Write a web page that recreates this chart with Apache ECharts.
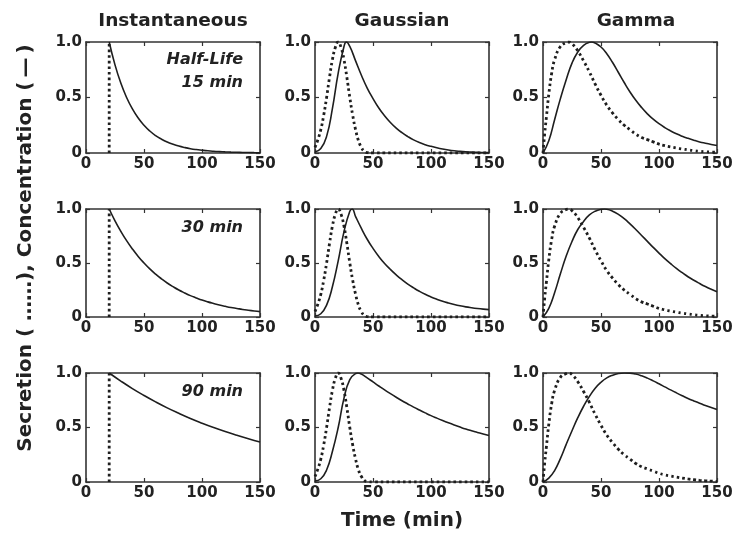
<!DOCTYPE html>
<html>
<head>
<meta charset="utf-8">
<script src="https://cdn.jsdelivr.net/npm/echarts@6/dist/echarts.min.js"></script>
<style>
  html, body { margin: 0; padding: 0; background: #ffffff; }
  #chart { width: 745px; height: 536px; }
</style>
</head>
<body>
<div id="chart"></div>
<script>
// Column and row headings
const columnTitles = ['Instantaneous', 'Gaussian', 'Gamma'];
const halfLifeLabels = [['Half-Life', '15 min'], ['30 min'], ['90 min']];
const xTicks = [0, 50, 100, 150];
const yTicks = [0, 0.5, 1.0];

// Secretion profiles, [time (min), relative secretion]
const pulseSecretion = [[20, 0], [20, 1]];
const gaussSecretion = [
  [0, 0.05], [2.5, 0.12], [5, 0.21], [7.5, 0.34], [10, 0.50], [12.5, 0.68], [15, 0.84],
  [17.5, 0.95], [20, 1.0], [22.5, 0.95], [25, 0.84], [27.5, 0.68], [30, 0.50], [32.5, 0.34],
  [35, 0.21], [37.5, 0.11], [40, 0.05], [42.5, 0.015], [45, 0.004], [50, 0], [100, 0], [150, 0]
];
const gammaSecretion = [
  [0, 0], [1.5, 0.18], [3, 0.33], [5, 0.53], [7.5, 0.72], [10, 0.84], [15, 0.96], [20, 0.995],
  [22, 1.0], [25, 0.985], [30, 0.92], [35, 0.83], [40, 0.73], [45, 0.62], [50, 0.52], [55, 0.43],
  [60, 0.36], [65, 0.30], [70, 0.25], [75, 0.21], [80, 0.17], [85, 0.14], [90, 0.12], [95, 0.10],
  [100, 0.08], [105, 0.066], [110, 0.055], [115, 0.045], [120, 0.036], [125, 0.028], [130, 0.021],
  [135, 0.015], [140, 0.011], [145, 0.008], [150, 0.006]
];

// Concentration after an instantaneous pulse at 20 min
const instConc15 = [
  [20, 1], [25, 0.794], [30, 0.63], [35, 0.5], [40, 0.397], [45, 0.315], [50, 0.25], [55, 0.198],
  [60, 0.157], [65, 0.125], [70, 0.099], [75, 0.079], [80, 0.0625], [85, 0.0496], [90, 0.039],
  [95, 0.031], [100, 0.025], [105, 0.0197], [110, 0.0156], [115, 0.0124], [120, 0.0098],
  [125, 0.0078], [130, 0.0062], [135, 0.0049], [140, 0.0039], [145, 0.0031], [150, 0.0024]
];
const instConc30 = [
  [20, 1], [25, 0.891], [30, 0.794], [35, 0.707], [40, 0.63], [45, 0.561], [50, 0.5], [55, 0.445],
  [60, 0.397], [65, 0.354], [70, 0.315], [75, 0.281], [80, 0.25], [85, 0.223], [90, 0.198],
  [95, 0.177], [100, 0.157], [105, 0.14], [110, 0.125], [115, 0.111], [120, 0.099], [125, 0.088],
  [130, 0.079], [135, 0.07], [140, 0.0625], [145, 0.0557], [150, 0.0496]
];
const instConc90 = [
  [20, 1], [30, 0.926], [40, 0.857], [50, 0.794], [60, 0.735], [70, 0.68], [80, 0.63], [90, 0.583],
  [100, 0.54], [110, 0.5], [120, 0.463], [130, 0.429], [140, 0.397], [150, 0.367]
];

// Concentration for Gaussian secretion
const gaussConc15 = [
  [0, 0.01], [5, 0.04], [10, 0.15], [15, 0.40], [20, 0.72], [25, 0.96], [27, 1.0], [30, 0.96],
  [35, 0.83], [40, 0.70], [45, 0.585], [50, 0.49], [55, 0.405], [60, 0.335], [65, 0.275], [70, 0.225],
  [75, 0.183], [80, 0.148], [85, 0.118], [90, 0.094], [95, 0.075], [100, 0.06], [105, 0.047],
  [110, 0.036], [115, 0.027], [120, 0.02], [125, 0.015], [130, 0.011], [135, 0.008], [140, 0.006],
  [145, 0.004], [150, 0.003]
];
const gaussConc30 = [
  [0, 0.01], [5, 0.03], [10, 0.11], [15, 0.28], [20, 0.52], [25, 0.79], [30, 0.98], [32, 1.0],
  [35, 0.93], [40, 0.82], [45, 0.72], [50, 0.635], [55, 0.56], [60, 0.495], [65, 0.44], [70, 0.39],
  [75, 0.345], [80, 0.305], [85, 0.27], [90, 0.238], [95, 0.21], [100, 0.186], [105, 0.165],
  [110, 0.146], [115, 0.13], [120, 0.116], [125, 0.104], [130, 0.094], [135, 0.086], [140, 0.079],
  [145, 0.073], [150, 0.068]
];
const gaussConc90 = [
  [0, 0.01], [5, 0.03], [10, 0.11], [15, 0.28], [20, 0.50], [25, 0.77], [30, 0.94], [35, 0.995],
  [37, 1.0], [40, 0.99], [45, 0.955], [50, 0.918], [55, 0.881], [60, 0.845], [65, 0.811], [70, 0.778],
  [75, 0.746], [80, 0.716], [85, 0.687], [90, 0.66], [95, 0.634], [100, 0.609], [105, 0.586],
  [110, 0.564], [115, 0.543], [120, 0.523], [125, 0.504], [130, 0.486], [135, 0.47], [140, 0.455],
  [145, 0.44], [150, 0.427]
];

// Concentration for gamma-shaped secretion
const gammaConc15 = [
  [0, 0], [5, 0.11], [10, 0.30], [15, 0.49], [20, 0.66], [25, 0.81], [30, 0.91], [35, 0.97],
  [40, 0.997], [42, 1.0], [45, 0.99], [50, 0.955], [55, 0.895], [60, 0.815], [65, 0.725], [70, 0.635],
  [75, 0.55], [80, 0.475], [85, 0.41], [90, 0.353], [95, 0.305], [100, 0.264], [105, 0.229],
  [110, 0.199], [115, 0.173], [120, 0.151], [125, 0.132], [130, 0.115], [135, 0.1], [140, 0.088],
  [145, 0.077], [150, 0.067]
];
const gammaConc30 = [
  [0, 0], [5, 0.08], [10, 0.225], [15, 0.40], [20, 0.565], [25, 0.70], [30, 0.81], [35, 0.885],
  [40, 0.945], [45, 0.98], [50, 0.997], [53, 1.0], [55, 0.998], [60, 0.98], [65, 0.95], [70, 0.91],
  [75, 0.862], [80, 0.81], [85, 0.755], [90, 0.70], [95, 0.645], [100, 0.592], [105, 0.541],
  [110, 0.494], [115, 0.45], [120, 0.41], [125, 0.373], [130, 0.34], [135, 0.31], [140, 0.282],
  [145, 0.257], [150, 0.234]
];
const gammaConc90 = [
  [0, 0], [5, 0.035], [10, 0.105], [15, 0.215], [20, 0.345], [25, 0.47], [30, 0.59], [35, 0.695],
  [40, 0.785], [45, 0.86], [50, 0.915], [55, 0.955], [60, 0.98], [65, 0.995], [70, 1.0], [75, 0.999],
  [80, 0.99], [85, 0.974], [90, 0.953], [95, 0.928], [100, 0.901], [105, 0.873], [110, 0.845],
  [115, 0.818], [120, 0.792], [125, 0.767], [130, 0.744], [135, 0.722], [140, 0.702], [145, 0.683],
  [150, 0.665]
];

// Panel contents: rows are half-lives, columns are secretion shapes
const secretionByColumn = [pulseSecretion, gaussSecretion, gammaSecretion];
const concentrationByPanel = [
  [instConc15, gaussConc15, gammaConc15],
  [instConc30, gaussConc30, gammaConc30],
  [instConc90, gaussConc90, gammaConc90]
];

// Layout
const FONT = '"DejaVu Sans", sans-serif';
const INK = '#222222';
const FRAME = '#333333';
const colLeft = [86, 315, 543];
const colWidth = 174;
const rowTop = [42, 209, 373];
const rowHeight = [111, 108, 109];

const grids = [], xAxes = [], yAxes = [], series = [];

function frameAxis(extra) {
  return Object.assign({
    type: 'value',
    axisLine: { show: true, onZero: false, lineStyle: { color: FRAME, width: 1.6 } },
    axisTick: { show: true, inside: true, length: 4, lineStyle: { color: FRAME, width: 1.2 } },
    splitLine: { show: false },
    axisLabel: { show: false }
  }, extra);
}

const tickLabel = {
  show: true, color: INK, fontFamily: FONT, fontWeight: 'bold', fontSize: 15
};

for (let r = 0; r < 3; r++) {
  for (let c = 0; c < 3; c++) {
    const g = r * 3 + c;
    grids.push({ left: colLeft[c], top: rowTop[r], width: colWidth, height: rowHeight[r], containLabel: false });
    const xRange = { gridIndex: g, min: xTicks[0], max: xTicks[xTicks.length - 1], interval: xTicks[1] - xTicks[0] };
    const yRange = { gridIndex: g, min: yTicks[0], max: yTicks[yTicks.length - 1], interval: yTicks[1] - yTicks[0] };
    xAxes.push(frameAxis(Object.assign({ position: 'bottom',
      axisLabel: Object.assign({ margin: 4 }, tickLabel) }, xRange)));
    xAxes.push(frameAxis(Object.assign({ position: 'top' }, xRange)));
    yAxes.push(frameAxis(Object.assign({ position: 'left',
      axisLabel: Object.assign({ margin: 4, formatter: v => (v === 0 ? '0' : v.toFixed(1)) }, tickLabel) }, yRange)));
    yAxes.push(frameAxis(Object.assign({ position: 'right' }, yRange)));

    // secretion (dotted)
    series.push({
      type: 'line', xAxisIndex: 2 * g, yAxisIndex: 2 * g,
      data: secretionByColumn[c], showSymbol: false, silent: true,
      smooth: c === 0 ? false : true,
      lineStyle: { color: '#1e1e1e', width: 2.8, type: [2.6, 3], cap: 'butt' },
      z: 3
    });
    // concentration (solid)
    series.push({
      type: 'line', xAxisIndex: 2 * g, yAxisIndex: 2 * g,
      data: concentrationByPanel[r][c], showSymbol: false, silent: true,
      smooth: true,
      lineStyle: { color: '#1e1e1e', width: 1.6, type: 'solid' },
      z: 4
    });
  }
}

// Headings, half-life notes and axis titles
const graphics = [];
const headX = [173, 402, 636];
columnTitles.forEach((t, i) => graphics.push({
  type: 'text', x: headX[i], y: 21,
  style: { text: t, align: 'center', verticalAlign: 'middle', fill: INK,
           fontFamily: FONT, fontWeight: 'bold', fontSize: 18.5 }
}));
const noteY = [[60, 83], [228], [392]];
halfLifeLabels.forEach((lines, r) => lines.forEach((t, k) => graphics.push({
  type: 'text', x: 243, y: noteY[r][k],
  style: { text: t, align: 'right', verticalAlign: 'middle', fill: INK,
           fontFamily: FONT, fontWeight: 'bold', fontStyle: 'italic', fontSize: 16 }
})));
graphics.push({
  type: 'text', x: 402, y: 521,
  style: { text: 'Time (min)', align: 'center', verticalAlign: 'middle', fill: INK,
           fontFamily: FONT, fontWeight: 'bold', fontSize: 20 }
});
graphics.push({
  type: 'text', x: 26, y: 248, rotation: Math.PI / 2,
  style: { text: 'Secretion ( \u2026\u2026), Concentration (\u2009\u2014\u2009)', align: 'center',
           verticalAlign: 'middle', fill: INK, fontFamily: FONT, fontWeight: 'bold', fontSize: 20 }
});

const chart = echarts.init(document.getElementById('chart'), null, { renderer: 'canvas' });
chart.setOption({
  animation: false,
  backgroundColor: '#ffffff',
  grid: grids,
  xAxis: xAxes,
  yAxis: yAxes,
  series: series,
  graphic: graphics
});
</script>
</body>
</html>
